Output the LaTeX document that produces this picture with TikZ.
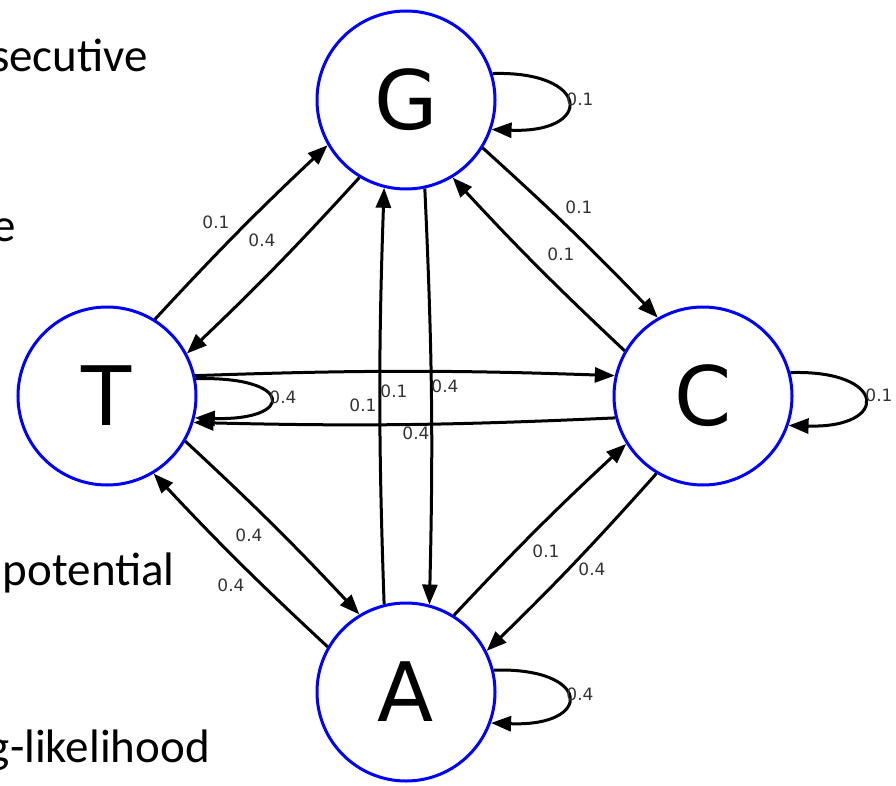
\documentclass[tikz,border=0pt]{standalone}
\usepackage{fontspec}
\setmainfont{DejaVu Sans}
\newfontfamily\slidefont{Carlito}
\usetikzlibrary{arrows.meta}
\begin{document}
\begin{tikzpicture}[x=1pt,y=-1pt,
  state/.style={circle, draw=blue, line width=3pt, minimum size=178pt, inner sep=0pt, font=\fontsize{82}{82}\selectfont},
  edge/.style={line width=3pt, -{Triangle[length=20pt,width=15pt]}},
  pair/.style={edge, bend left=2},
  lbl/.style={font=\fontsize{17}{17}\selectfont, text=black!80, inner sep=0pt},
  slide/.style={font=\slidefont\fontsize{47}{47}\selectfont, inner sep=0pt, anchor=base east}]
\useasboundingbox (0,0) rectangle (896,786);
% slide text (cropped at the left edge, as in the reference)
\node[slide] (s1) at (148,72) {secutive};
\node[slide] (s2) at (16,242) {e};
\node[slide] (s3) at (175,585) {potential};
\node[slide] (s4) at (210,762) {g-likelihood};
% states
\node[state] (G) at (406,100) {G};
\node[state] (T) at (107,396) {T};
\node[state] (C) at (703,396) {C};
\node[state] (A) at (406,692) {A};
% edges
\draw[pair] (T.58.8) to (G.210);
\draw[pair] (G.239) to (T.28);
\draw[pair] (A.104.8) to (G.256.4);
\draw[pair] (G.282) to (A.75.5);
\draw[pair] (C.150.6) to (G.301);
\draw[pair] (G.328.6) to (C.120.5);
\draw[pair] (T.13) to (C.167.8);
\draw[pair] (C.194) to (T.-17);
\draw[pair] (T.-30.4) to (A.121.9);
\draw[pair] (A.150) to (T.-59);
\draw[pair] (A.58.5) to (C.212.2);
\draw[pair] (C.239.8) to (A.27.8);
% self loops
\draw[edge] (G.17.4) .. controls +(98,-3) and +(103,4) .. (G.-19);
\draw[edge] (T.11) .. controls +(98,-3) and +(101,3) .. (T.-14);
\draw[edge] (C.15.4) .. controls +(97,-3) and +(102,3) .. (C.-19.5);
\draw[edge] (A.14.3) .. controls +(98,-3) and +(103,4) .. (A.-20.3);
% labels
\node[lbl] (lG) at (580,99) {0.1};
\node[lbl] (lTG) at (216,222) {0.1};
\node[lbl] (lGT) at (262,240) {0.4};
\node[lbl] (lGC) at (579,207) {0.1};
\node[lbl] (lCG) at (561,254) {0.1};
\node[lbl] (lT) at (283,397) {0.4};
\node[lbl] (lAG) at (363,405) {0.1};
\node[lbl] (lTC) at (394,391) {0.1};
\node[lbl] (lGA) at (445,386) {0.4};
\node[lbl] (lCT) at (416,433) {0.4};
\node[lbl] (lC) at (879,395) {0.1};
\node[lbl] (lTA) at (249,535) {0.4};
\node[lbl] (lAT) at (231,585) {0.4};
\node[lbl] (lAC) at (546,551) {0.1};
\node[lbl] (lCA) at (592,569) {0.4};
\node[lbl] (lA) at (580,694) {0.4};
\end{tikzpicture}
\end{document}
